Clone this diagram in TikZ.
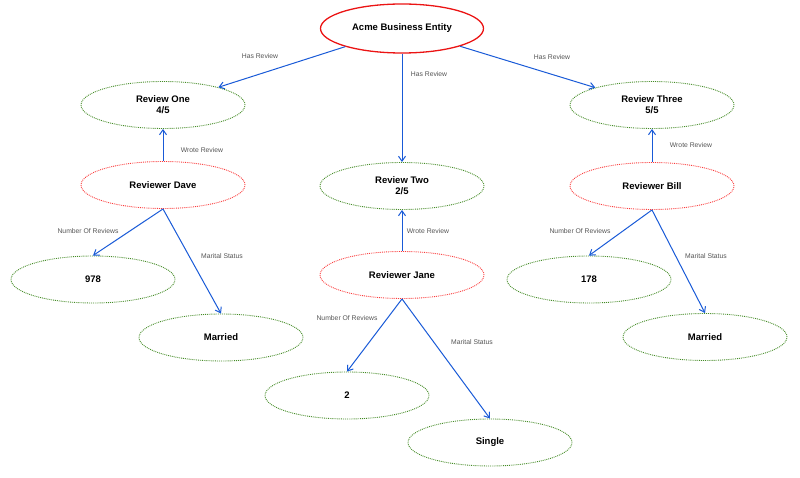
\documentclass[tikz,border=0pt]{standalone}
\usepackage{fontspec}
\setmainfont{Liberation Sans}
\usetikzlibrary{shapes.geometric,arrows.meta}
\definecolor{entred}{RGB}{235,20,20}
\definecolor{dotred}{RGB}{250,60,60}
\definecolor{dotgreen}{RGB}{70,140,40}
\definecolor{linkblue}{RGB}{25,90,215}
\definecolor{lblgray}{RGB}{85,85,85}
\tikzset{
	entity/.style={ellipse, draw=entred, line width=1.3pt, minimum width=163pt, minimum height=49pt, inner sep=0pt, font=\bfseries\fontsize{9.5}{11}\selectfont},
	person/.style={ellipse, draw=dotred, densely dotted, line width=0.9pt, minimum width=164pt, minimum height=47pt, inner sep=0pt, font=\bfseries\fontsize{9.5}{11}\selectfont},
	item/.style={ellipse, draw=dotgreen, densely dotted, line width=0.9pt, minimum width=164pt, minimum height=47pt, inner sep=0pt, align=center, font=\bfseries\fontsize{9.5}{11}\selectfont},
	link/.style={-{Straight Barb[length=5pt,width=7pt]}, draw=linkblue, line width=1pt},
	lbl/.style={text=lblgray, font=\fontsize{6.8}{8}\selectfont}
}
\begin{document}
\begin{tikzpicture}[x=1pt, y=-1pt]
	%%%%% START %%%%%
	\useasboundingbox (0,0) rectangle (800,478);
	
	\node[entity] (acme) at (402,28.5) {Acme Business Entity};
	
	\node[item] (revone) at (163,105) {Review One\\4/5};
	\node[item] (revtwo) at (402,186) {Review Two\\2/5};
	\node[item] (revthree) at (652,105) {Review Three\\5/5};
	
	\node[person] (dave) at (163,185) {Reviewer Dave};
	\node[person] (jane) at (402,275) {Reviewer Jane};
	\node[person] (bill) at (652,186) {Reviewer Bill};
	
	\node[item] (davenum) at (93,279.5) {978};
	\node[item] (davemar) at (221,337.5) {Married};
	\node[item] (janenum) at (347,395.5) {2};
	\node[item] (janemar) at (490,442.5) {Single};
	\node[item] (billnum) at (589,279.5) {178};
	\node[item] (billmar) at (705,337) {Married};
	
	\draw[link] (acme) -- (revone);
	\draw[link] (acme.south) -- (revtwo.north);
	\draw[link] (acme) -- (revthree);
	
	\draw[link] (dave.north) -- (revone.south);
	\draw[link] (jane.north) -- (revtwo.south);
	\draw[link] (bill.north) -- (revthree.south);
	
	\draw[link] (dave.south) -- (davenum.north);
	\draw[link] (dave.south) -- (davemar.north);
	\draw[link] (jane.south) -- (janenum.north);
	\draw[link] (jane.south) -- (janemar.north);
	\draw[link] (bill.south) -- (billnum.north);
	\draw[link] (bill.south) -- (billmar.north);
	
	\node[lbl] (hasone) at (260,56) {Has Review};
	\node[lbl] (hastwo) at (429,74) {Has Review};
	\node[lbl] (hasthree) at (552,57) {Has Review};
	
	\node[lbl] (wroteone) at (202,150) {Wrote Review};
	\node[lbl] (wrotetwo) at (428,231) {Wrote Review};
	\node[lbl] (wrotethree) at (691,145) {Wrote Review};
	
	\node[lbl] (numone) at (88,231) {Number Of Reviews};
	\node[lbl] (numtwo) at (347,318) {Number Of Reviews};
	\node[lbl] (numthree) at (580,231) {Number Of Reviews};
	
	\node[lbl] (marone) at (222,256) {Marital Status};
	\node[lbl] (martwo) at (472,342) {Marital Status};
	\node[lbl] (marthree) at (706,256) {Marital Status};
	
	%%%%% END %%%%%
\end{tikzpicture}
\end{document}
